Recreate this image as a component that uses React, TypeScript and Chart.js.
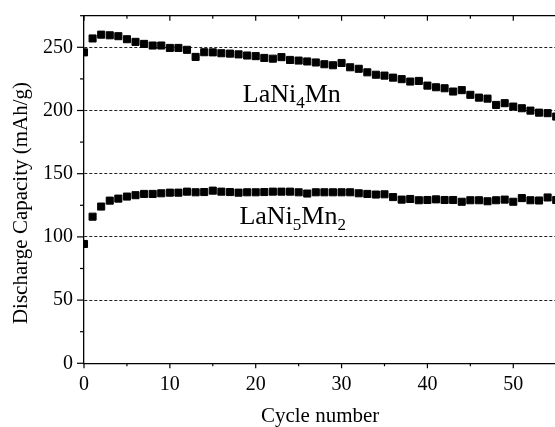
import React, { useEffect, useRef } from 'react';
import { Chart, registerables } from 'chart.js';

Chart.register(...registerables);

const cycles = [
  0, 1, 2, 3, 4, 5, 6, 7, 8, 9, 10, 11, 12, 13, 14, 15, 16, 17, 18, 19,
  20, 21, 22, 23, 24, 25, 26, 27, 28, 29, 30, 31, 32, 33, 34, 35, 36, 37, 38, 39,
  40, 41, 42, 43, 44, 45, 46, 47, 48, 49, 50, 51, 52, 53, 54, 55,
];

const laNi4Mn = [
  246, 257, 260, 259.5, 258.8, 256.4, 254.3, 252.7, 251.4, 251.4,
  249.5, 249.5, 248, 242.4, 246.1, 246, 245.3, 245, 244.4, 243.5,
  243, 241.6, 241, 242.2, 240, 239.5, 238.8, 238, 236.6, 235.8,
  237.6, 234.2, 233, 230.2, 228.3, 227.6, 226, 224.8, 222.9, 223.4,
  219.7, 218.4, 217.6, 215, 216.1, 212.4, 210.2, 209.4, 204.4, 205.8,
  203.1, 201.8, 199.9, 198.3, 197.9, 195.2,
];

const laNi5Mn2 = [
  94.4, 116, 124, 128.7, 130.3, 131.9, 133, 134, 134, 134.5,
  135, 135, 135.8, 135.3, 135.5, 136.6, 135.8, 135.5, 135, 135.3,
  135.3, 135.5, 135.8, 135.8, 135.8, 135.3, 134.3, 135.3, 135.3, 135.3,
  135.3, 135.3, 134.5, 134, 133.5, 133.7, 131.5, 129.5, 130, 129,
  129.2, 129.7, 129.2, 129.2, 127.8, 129, 129, 128.2, 129, 129.5,
  127.8, 130.7, 129, 128.8, 131.2, 129.2,
];

const xTickLabels = ['0', '10', '20', '30', '40', '50'];
const yTickLabels = ['0', '50', '100', '150', '200', '250'];

const xTitle = 'Cycle number';
const yTitle = 'Discharge Capacity (mAh/g)';

// annotation text parts: [text, isSubscript]
const label1Parts: [string, boolean][] = [['LaNi', false], ['4', true], ['Mn', false]];
const label1Pos = [18.5, 206.6];
const label2Parts: [string, boolean][] = [['LaNi', false], ['5', true], ['Mn', false], ['2', true]];
const label2Pos = [18.1, 110.2];

const FONT = '"Liberation Serif", "Times New Roman", serif';

const decorPlugin = {
  id: 'decor',
  afterDraw(chart: any) {
    const { ctx, chartArea, scales } = chart;
    const x = scales.x;
    const y = scales.y;
    ctx.save();
    ctx.strokeStyle = '#000';
    ctx.lineWidth = 1.3;
    // top frame line
    ctx.beginPath();
    ctx.moveTo(chartArea.left, chartArea.top);
    ctx.lineTo(chartArea.right, chartArea.top);
    ctx.stroke();
    // x ticks (bottom outward, top inward)
    ctx.lineWidth = 1.2;
    x.ticks.forEach((t: any) => {
      const px = x.getPixelForValue(t.value);
      const major = xTickLabels.includes(String(t.value));
      const len = major ? 5 : 3;
      ctx.beginPath();
      ctx.moveTo(px, chartArea.bottom);
      ctx.lineTo(px, chartArea.bottom + len);
      ctx.moveTo(px, chartArea.top);
      ctx.lineTo(px, chartArea.top + len);
      ctx.stroke();
    });
    // y ticks outward
    y.ticks.forEach((t: any) => {
      const py = y.getPixelForValue(t.value);
      const major = yTickLabels.includes(String(t.value));
      const len = major ? 7 : 4;
      ctx.beginPath();
      ctx.moveTo(chartArea.left - len, py);
      ctx.lineTo(chartArea.left, py);
      ctx.stroke();
    });

    // annotations
    const drawLabel = (parts: [string, boolean][], pos: number[]) => {
      let px = x.getPixelForValue(pos[0]);
      const py = y.getPixelForValue(pos[1]);
      ctx.fillStyle = '#000';
      ctx.textAlign = 'left';
      ctx.textBaseline = 'alphabetic';
      parts.forEach(([txt, sub]) => {
        ctx.font = sub ? `17px ${FONT}` : `26px ${FONT}`;
        ctx.fillText(txt, px, sub ? py + 5.5 : py);
        px += ctx.measureText(txt).width;
      });
    };
    drawLabel(label1Parts, label1Pos);
    drawLabel(label2Parts, label2Pos);

    // y axis title
    ctx.font = `21px ${FONT}`;
    ctx.fillStyle = '#000';
    ctx.textAlign = 'center';
    ctx.textBaseline = 'middle';
    ctx.translate(21, (chartArea.top + chartArea.bottom) / 2 + 13.5);
    ctx.rotate(-Math.PI / 2);
    ctx.fillText(yTitle, 0, 0);
    ctx.restore();
  },
};

export default function App() {
  const canvasRef = useRef<HTMLCanvasElement | null>(null);

  useEffect(() => {
    const canvas = canvasRef.current;
    if (!canvas) return;
    const pointStyle = {
      showLine: false,
      pointStyle: 'rect',
      pointRadius: 5,
      pointHoverRadius: 5,
      backgroundColor: '#000',
      borderColor: '#000',
      borderWidth: 1,
    };
    const chart = new Chart(canvas, {
      type: 'scatter',
      data: {
        datasets: [
          { label: 'LaNi4Mn', data: cycles.map((c, i) => ({ x: c, y: laNi4Mn[i] })), ...pointStyle },
          { label: 'LaNi5Mn2', data: cycles.map((c, i) => ({ x: c, y: laNi5Mn2[i] })), ...pointStyle },
        ],
      },
      options: {
        responsive: false,
        animation: false,
        events: [],
        layout: { padding: { top: 15.7, right: 600 - 556.2, left: 0, bottom: 0 } },
        plugins: {
          legend: { display: false },
          tooltip: { enabled: false },
        },
        scales: {
          x: {
            type: 'linear',
            min: 0,
            max: 55,
            afterFit: (scale: any) => {
              scale.height = 427 - 363.3;
              scale.paddingLeft = 0;
              scale.paddingRight = 0;
            },
            ticks: {
              stepSize: 5,
              autoSkip: false,
              maxRotation: 0,
              padding: 9,
              color: '#000',
              font: { family: FONT, size: 20 },
              callback: (v: any) => (xTickLabels.includes(String(v)) ? String(v) : ''),
            },
            grid: { display: false, drawTicks: false },
            border: { display: true, color: '#000', width: 1.3 },
            title: {
              display: true,
              text: xTitle,
              color: '#000',
              font: { family: FONT, size: 21, lineHeight: 1 },
              padding: { top: 0, bottom: 0 },
            },
          },
          y: {
            type: 'linear',
            min: 0,
            max: 275,
            afterFit: (scale: any) => {
              scale.width = 84;
              scale.paddingTop = 0;
              scale.paddingBottom = 0;
            },
            ticks: {
              stepSize: 25,
              autoSkip: false,
              padding: 11,
              color: '#000',
              font: { family: FONT, size: 20 },
              callback: (v: any) => (yTickLabels.includes(String(v)) ? String(v) : ''),
            },
            grid: {
              drawTicks: false,
              lineWidth: 1,
              color: (ctx: any) => {
                const v = ctx.tick ? ctx.tick.value : 0;
                return v > 0 && yTickLabels.includes(String(v)) ? '#222' : 'rgba(0,0,0,0)';
              },
            },
            border: { display: true, color: '#000', width: 1.3, dash: [3, 2] },
            title: { display: false },
          },
        },
      },
      plugins: [decorPlugin],
    });
    return () => chart.destroy();
  }, []);

  return (
    <div style={{ position: 'fixed', left: 0, top: 0, width: 555, height: 427, overflow: 'hidden', background: '#fff' }}>
      <canvas ref={canvasRef} width={600} height={427} style={{ display: 'block', width: 600, height: 427 }} />
    </div>
  );
}
